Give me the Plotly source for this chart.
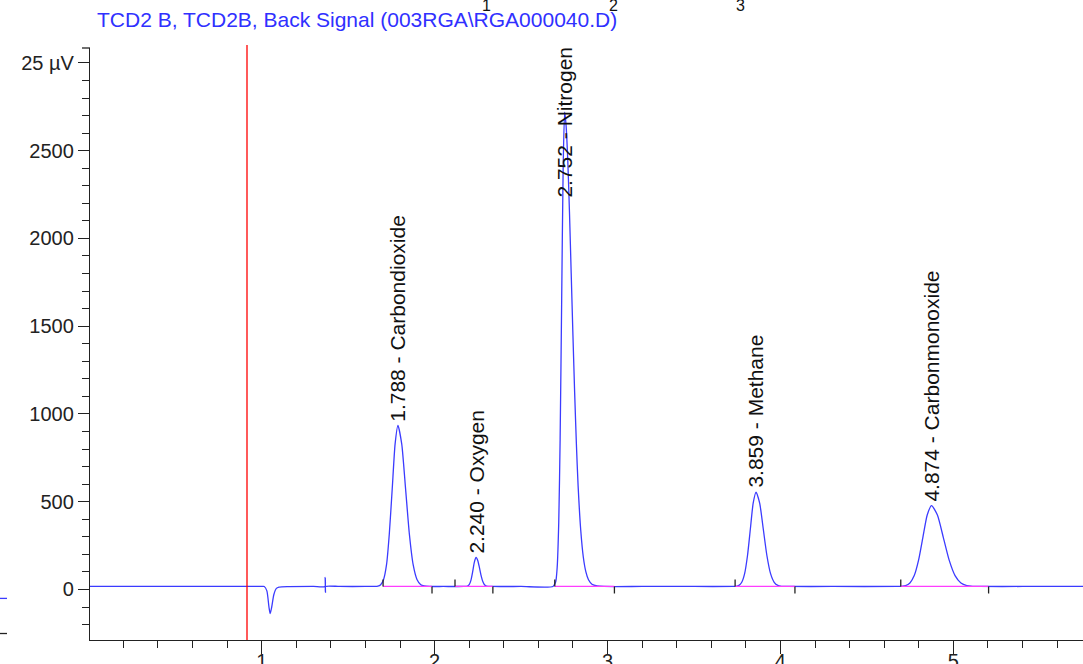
import plotly.graph_objects as go

# ---- chromatogram signal (time in min, response in µV), segment by segment ----
lead_t = [0.0, 0.5, 1.0, 1.015]
lead_v = [17, 17, 17, 17]

dip_t = [1.03, 1.042, 1.049, 1.058, 1.07, 1.085, 1.10, 1.15]
dip_v = [-8, -100, -137, -100, -30, 6, 13, 16]

spike_t = [1.30, 1.366, 1.367, 1.369, 1.370, 1.45, 1.60]
spike_v = [17, 17, 68, -17, 17, 17, 17]

co2_t = [1.672, 1.688, 1.705, 1.722, 1.738, 1.755, 1.7715, 1.788,
         1.81, 1.832, 1.854, 1.876, 1.898, 1.92, 1.94, 1.97, 2.05, 2.17]
co2_v = [19, 27, 57, 141, 316, 575, 828, 935,
         828, 575, 316, 141, 57, 27, 20, 17, 17, 17]

o2_t = [2.19, 2.20, 2.21, 2.22, 2.23, 2.24, 2.25, 2.26, 2.27, 2.28, 2.29, 2.30, 2.33, 2.50, 2.685]
o2_v = [19, 27, 52, 100, 156, 182, 164, 121, 75, 42, 25, 19, 17, 17, 17]

n2_t = [2.70, 2.709, 2.718, 2.726, 2.735, 2.7435, 2.752,
        2.76, 2.77, 2.78, 2.79, 2.80, 2.81, 2.82, 2.83, 2.845, 2.86, 2.875,
        2.89, 2.91, 2.94, 2.98, 3.2, 3.5, 3.73]
n2_v = [42, 127, 383, 856, 1657, 2402, 2720,
        2650, 2450, 2150, 1800, 1450, 1120, 830, 590, 340, 185, 100,
        55, 30, 20, 17, 17, 17, 17]

ch4_t = [3.7435, 3.760, 3.7765, 3.793, 3.8095, 3.826, 3.8425, 3.859,
         3.880, 3.901, 3.922, 3.943, 3.964, 3.985, 4.006, 4.04, 4.3, 4.68]
ch4_v = [18, 23, 41, 90, 192, 343, 492, 555,
         492, 343, 192, 90, 41, 23, 18, 17, 17, 17]

co_t = [4.699, 4.724, 4.749, 4.774, 4.799, 4.824, 4.849, 4.874,
        4.908, 4.942, 4.976, 5.010, 5.044, 5.078, 5.112, 5.154, 5.4, 5.75]
co_v = [18, 22, 37, 79, 167, 297, 424, 478,
        424, 297, 167, 79, 37, 22, 18, 17, 17, 17]

# ---- integration events ----
baseline_level = 17
peak_start = [1.702, 2.118, 2.695, 3.738, 4.696]
peak_end = [1.985, 2.337, 3.040, 4.084, 5.204]

# ---- peak annotations ----
peak_rt = [1.788, 2.240, 2.752, 3.859, 4.874]
peak_apex = [935, 182, 2720, 555, 478]
peak_name = ["Carbondioxide", "Oxygen", "Nitrogen", "Methane", "Carbonmonoxide"]

# ---- axes ----
x_ticks = [1, 2, 3, 4, 5]
y_ticks = [0, 500, 1000, 1500, 2000, 2500, 3000]
y_ticktext = ["0", "500", "1000", "1500", "2000", "2500", "25 µV"]
x_range = [0.007, 5.75]
y_range = [-288, 3085]

injection_time = 0.915
title_text = "TCD2 B, TCD2B, Back Signal (003RGA\\RGA000040.D)"
top_marks = ["1", "2", "3"]
top_marks_x = [2.303, 3.032, 3.767]

FONT = "Arial, Liberation Sans, sans-serif"
AXIS = "#222222"

sig_t = lead_t + dip_t + spike_t + co2_t + o2_t + n2_t + ch4_t + co_t
sig_v = lead_v + dip_v + spike_v + co2_v + o2_v + n2_v + ch4_v + co_v

fig = go.Figure()

fig.add_trace(go.Scatter(
    x=sig_t, y=sig_v, mode="lines",
    line=dict(color="#3b3bff", width=1.3, shape="spline", smoothing=0.6),
    hoverinfo="skip", showlegend=False))

# integration baselines
bx, by = [], []
for s, e in zip(peak_start, peak_end):
    bx += [s, e, None]
    by += [baseline_level, baseline_level, None]
fig.add_trace(go.Scatter(
    x=bx, y=by, mode="lines", line=dict(color="#ff3dff", width=1.3),
    hoverinfo="skip", showlegend=False))

# start / end event ticks
tx, ty = [], []
for s in peak_start:
    tx += [s, s, None]
    ty += [baseline_level, baseline_level + 40, None]
for e in peak_end:
    tx += [e, e, None]
    ty += [baseline_level, baseline_level - 40, None]
fig.add_trace(go.Scatter(
    x=tx, y=ty, mode="lines", line=dict(color="#222222", width=1.3),
    hoverinfo="skip", showlegend=False))

annotations = []
for rt, apex, name in zip(peak_rt, peak_apex, peak_name):
    label = f"{rt:.3f} - {name}"
    if apex > 2500:
        annotations.append(dict(
            x=rt, y=1.006, xref="x", yref="paper", text=label, textangle=-90,
            showarrow=False, xanchor="center", yanchor="top",
            font=dict(family=FONT, size=21, color="#111111")))
    else:
        annotations.append(dict(
            x=rt, y=apex, xref="x", yref="y", text=label, textangle=-90,
            showarrow=False, xanchor="center", yanchor="bottom", yshift=2,
            font=dict(family=FONT, size=21, color="#111111")))

annotations.append(dict(
    x=0.005, y=1.0 + 28 / 592, xref="paper", yref="paper", text=title_text,
    showarrow=False, xanchor="left", yanchor="middle",
    font=dict(family=FONT, size=21, color="#3030ff")))

for lab, xv in zip(top_marks, top_marks_x):
    annotations.append(dict(
        x=xv, y=1.0 + 42 / 592, xref="x", yref="paper", text=lab,
        showarrow=False, xanchor="center", yanchor="middle",
        font=dict(family=FONT, size=16, color="#111111")))

shapes = [
    # injection marker
    dict(type="line", xref="x", yref="paper", x0=injection_time, x1=injection_time,
         y0=0, y1=1.0 + 3 / 592, line=dict(color="#ff0000", width=1.3)),
    # cap at the top of the signal axis
    dict(type="line", xref="paper", yref="paper", x0=-8 / 993, x1=0, y0=1, y1=1,
         line=dict(color=AXIS, width=1.3)),
    # small marks at the far left edge
    dict(type="line", xref="paper", yref="y", x0=-90 / 993, x1=-83 / 993, y0=-51, y1=-51,
         line=dict(color="#3b3bff", width=1.3)),
    dict(type="line", xref="paper", yref="y", x0=-90 / 993, x1=-83 / 993, y0=-251, y1=-251,
         line=dict(color=AXIS, width=1.3)),
]

fig.update_layout(
    width=1083, height=664,
    margin=dict(l=90, r=0, t=48, b=24, autoexpand=False),
    paper_bgcolor="white", plot_bgcolor="white",
    showlegend=False,
    annotations=annotations,
    shapes=shapes,
    xaxis=dict(
        range=x_range, tickmode="array", tickvals=x_ticks,
        ticktext=[str(v) for v in x_ticks], automargin=False,
        showgrid=False, zeroline=False, showline=True, linecolor=AXIS, linewidth=1.3,
        ticks="outside", ticklen=13, tickwidth=1.3, tickcolor=AXIS,
        ticklabelstandoff=-10,
        tickfont=dict(family=FONT, size=20, color="#222222"),
        minor=dict(tickmode="linear", tick0=0, dtick=0.2, ticks="outside",
                   ticklen=7, tickwidth=1.3, tickcolor=AXIS, showgrid=False),
    ),
    yaxis=dict(
        range=y_range, tickmode="array", tickvals=y_ticks, ticktext=y_ticktext,
        automargin=False,
        showgrid=False, zeroline=False, showline=True, linecolor=AXIS, linewidth=1.3,
        ticks="outside", ticklen=11, tickwidth=1.3, tickcolor=AXIS,
        tickfont=dict(family=FONT, size=20, color="#222222"),
        minor=dict(tickmode="linear", tick0=0, dtick=100, ticks="outside",
                   ticklen=7, tickwidth=1.3, tickcolor=AXIS, showgrid=False),
    ),
)

fig.write_html("out.html")
